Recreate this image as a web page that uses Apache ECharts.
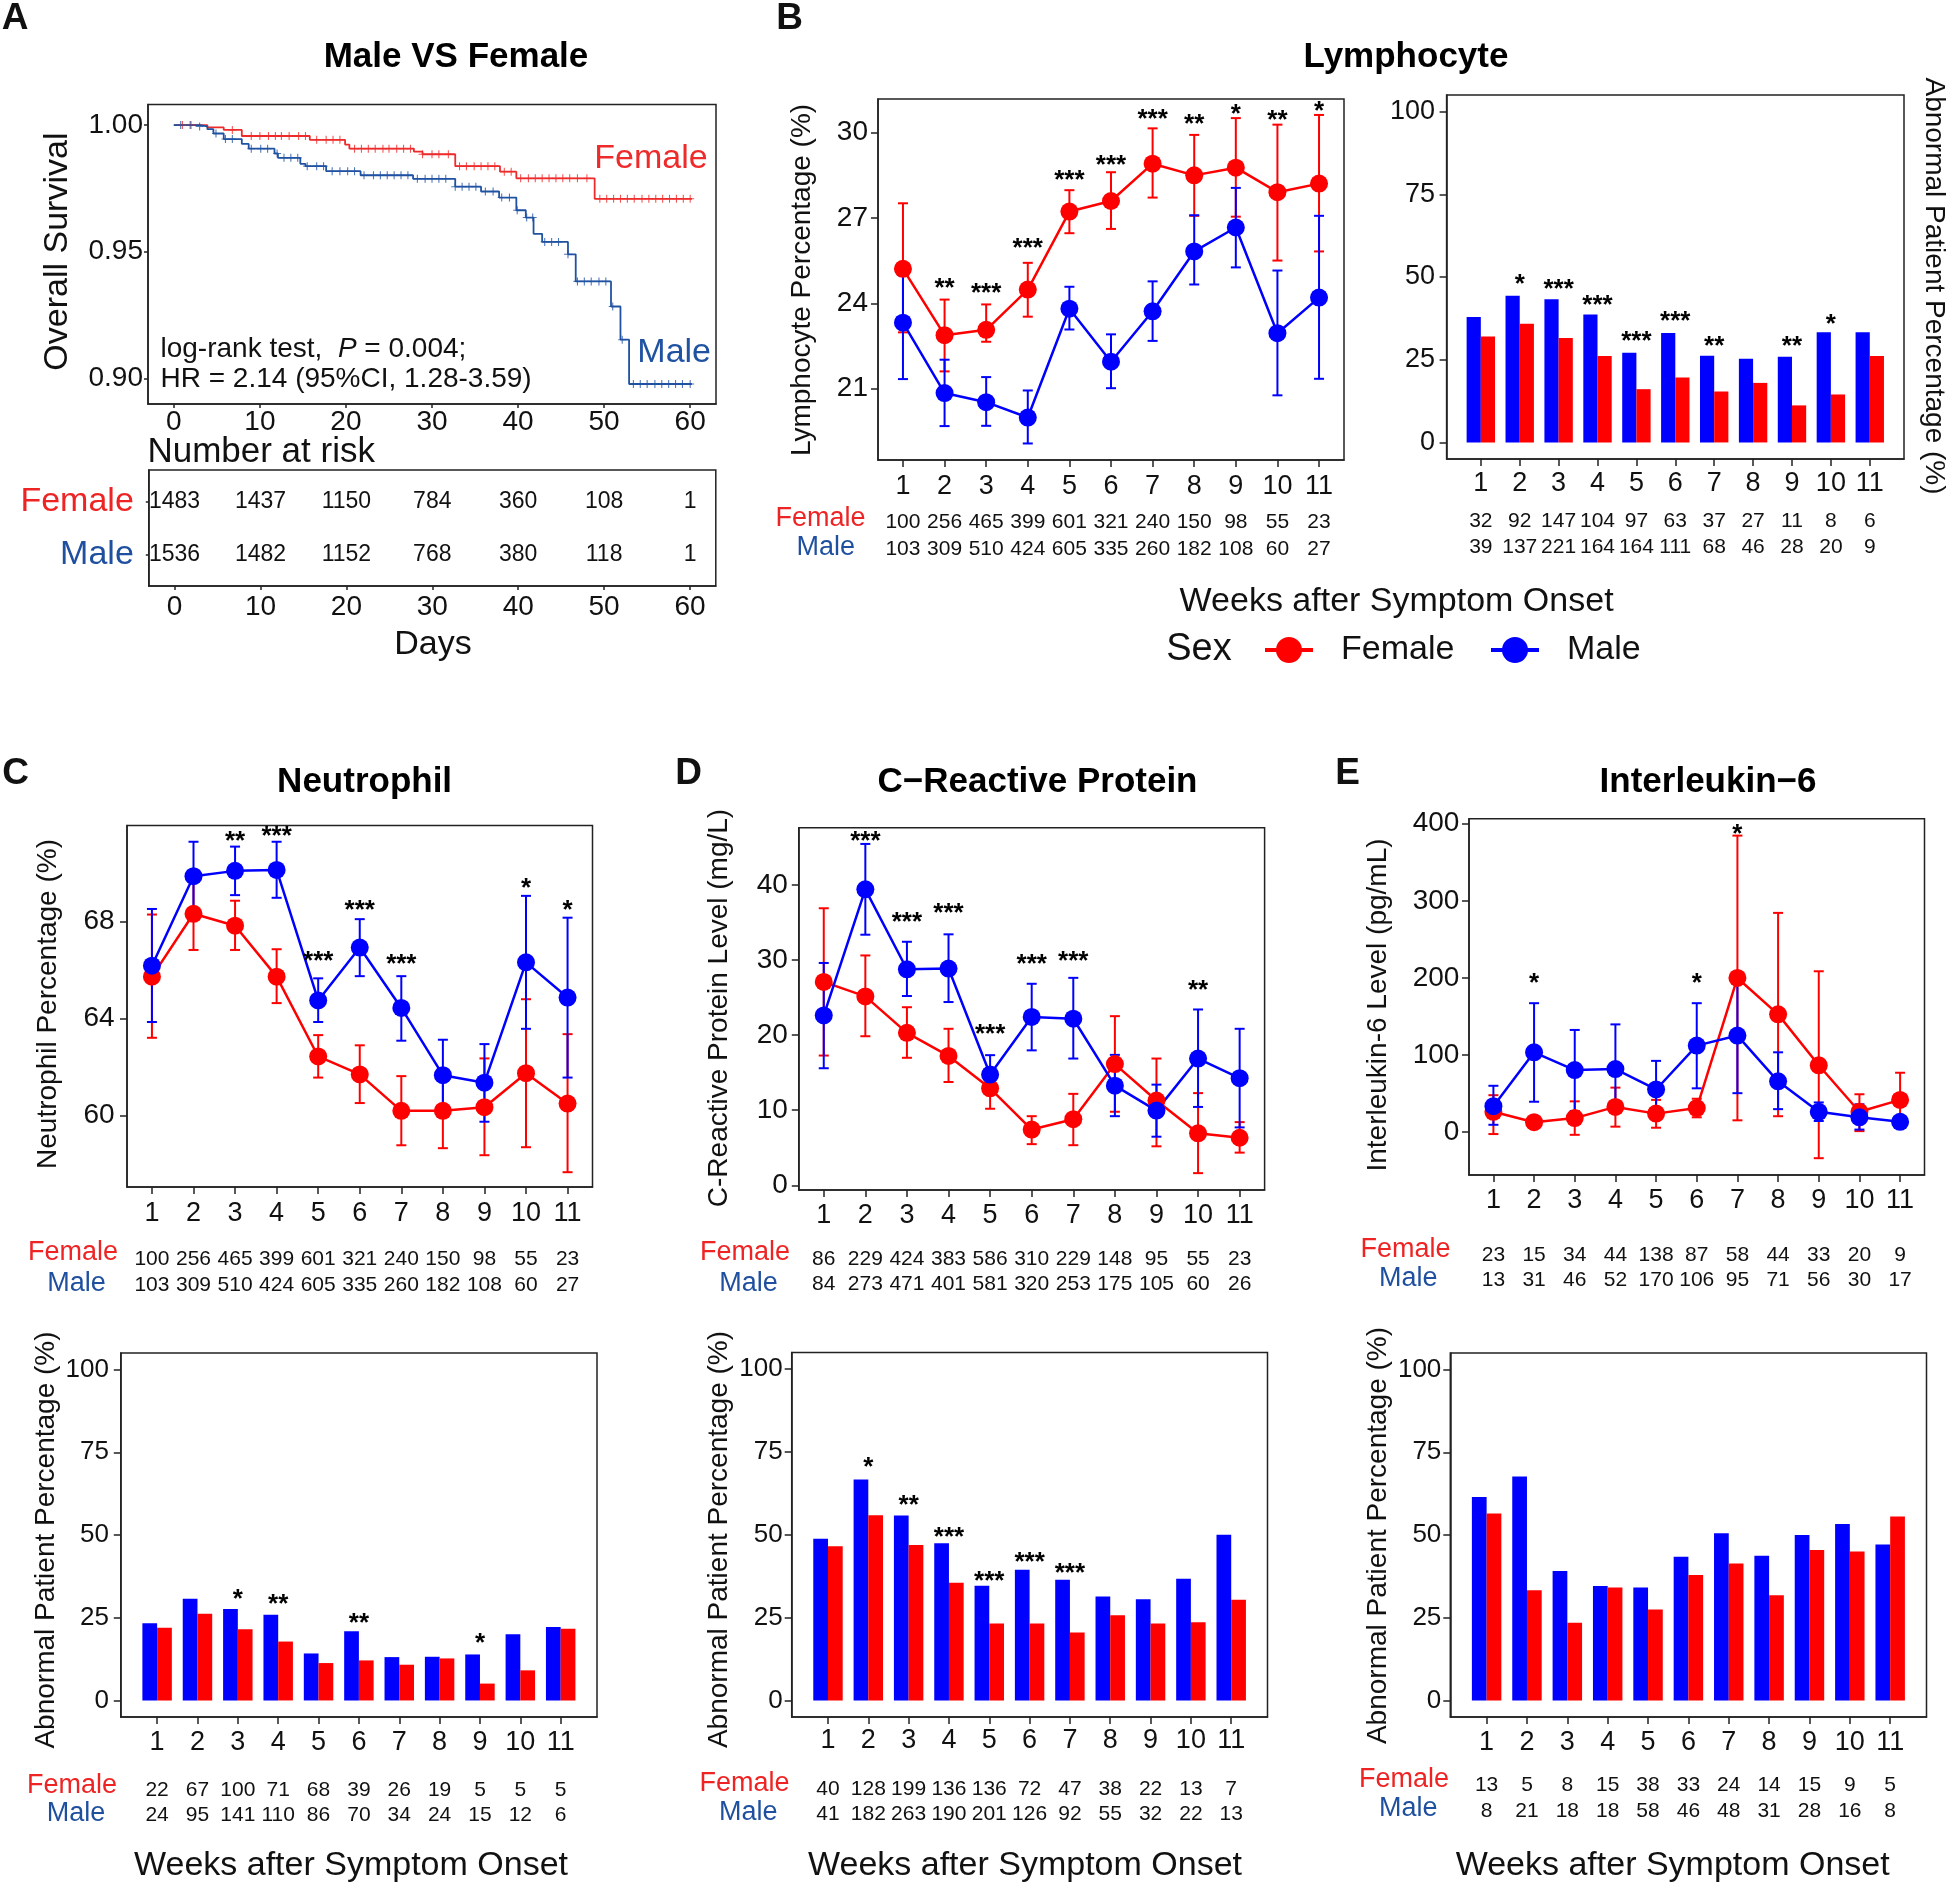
<!DOCTYPE html>
<html><head><meta charset="utf-8">
<script src="https://cdn.jsdelivr.net/npm/echarts@6/dist/echarts.min.js"></script>
<style>html,body{margin:0;padding:0;background:#fff}#c{width:1946px;height:1883px}</style>
</head><body><div id="c"></div><script>
// ---------------- DATA ----------------
const weeks = [1,2,3,4,5,6,7,8,9,10,11];

// Panel A: Kaplan-Meier
const kmFemaleDays = [0, 3.9, 5.8, 7.9, 15.8, 19.9, 20.4, 27.9, 28.9, 32.7, 37.9, 39.8, 48.9, 60.2];
const kmFemaleSurv = [1.000, 0.9991, 0.9981, 0.9957, 0.9942, 0.9923, 0.9907, 0.9895, 0.9885, 0.9838, 0.9816, 0.9790, 0.9709, 0.9709];
const kmMaleDays = [0, 3.0, 3.9, 4.6, 5.8, 7.9, 8.7, 11.7, 12.1, 14.7, 15.3, 17.7, 21.7, 27.8, 32.7, 35.7, 37.8, 39.8, 40.9, 41.8, 42.8, 45.8, 46.7, 50.8, 51.9, 52.9, 60.2];
const kmMaleSurv = [1.000, 0.9995, 0.9984, 0.9967, 0.9945, 0.9926, 0.9907, 0.9888, 0.9871, 0.9847, 0.9838, 0.9818, 0.9802, 0.9788, 0.9757, 0.9738, 0.9714, 0.9664, 0.9635, 0.9571, 0.9539, 0.9490, 0.9383, 0.9284, 0.9153, 0.8978, 0.8978];
const kmFemaleCensor = [1, 2, 6.8, 9, 10, 11, 11.8, 12.5, 13.4, 14.5, 15.3, 16.6, 17.7, 18.5, 19.3, 21, 21.8, 22.6, 23.4, 24.3, 25, 25.9, 26.7, 27.5, 28.9, 30, 30.8, 31.9, 33.2, 34, 34.9, 35.7, 36.5, 37.3, 38.4, 39.2, 40.3, 41.2, 42, 42.8, 43.6, 44.4, 45.2, 46, 46.9, 48, 49.5, 50.3, 51.1, 51.9, 52.7, 53.5, 54.4, 55.2, 56, 56.8, 57.6, 58.4, 59.2, 60];
const kmMaleCensor = [0.8, 1.9, 3, 4.9, 6, 6.8, 9, 10.1, 10.9, 12, 12.8, 13.6, 14.4, 15.5, 16.6, 17.4, 18.4, 19.3, 20.2, 21, 22.1, 23.2, 24, 24.8, 25.6, 26.4, 27.2, 28.3, 29.2, 30, 30.8, 31.6, 32.7, 33.5, 34.3, 35.1, 36.2, 37.1, 38.1, 39, 39.9, 41, 41.7, 43.1, 43.9, 44.7, 45.8, 46.9, 47.7, 48.5, 49.4, 50.2, 51, 52.1, 53.4, 54.2, 55, 55.9, 56.7, 57.5, 58.3, 59.1, 60];
const riskDays = [0, 10, 20, 30, 40, 50, 60];
const riskFemale = [1483, 1437, 1150, 784, 360, 108, 1];
const riskMale = [1536, 1482, 1152, 768, 380, 118, 1];

// Panel B: Lymphocyte
const lymFemale   = [25.21, 22.88, 23.07, 24.48, 27.22, 27.59, 28.90, 28.49, 28.76, 27.90, 28.20];
const lymFemaleLo = [22.98, 21.61, 22.65, 23.53, 26.46, 26.61, 27.71, 27.07, 27.04, 25.50, 25.82];
const lymFemaleHi = [27.51, 24.13, 23.96, 25.42, 27.97, 28.60, 30.14, 29.91, 30.50, 30.27, 30.61];
const lymMale     = [23.32, 20.85, 20.53, 19.99, 23.81, 21.95, 23.72, 25.82, 26.66, 22.95, 24.20];
const lymMaleLo   = [21.34, 19.69, 19.70, 19.08, 23.08, 21.02, 22.68, 24.66, 25.26, 20.77, 21.35];
const lymMaleHi   = [24.98, 22.02, 21.41, 20.94, 24.58, 22.91, 24.77, 27.09, 28.05, 25.15, 27.07];
const lymStars = ['', '**', '***', '***', '***', '***', '***', '**', '*', '**', '*'];
const lymStarY = [null, 24.71, 24.55, 26.11, 28.52, 29.04, 30.66, 30.47, 30.81, 30.63, 30.92];
const lymFemaleN = [100, 256, 465, 399, 601, 321, 240, 150, 98, 55, 23];
const lymMaleN   = [103, 309, 510, 424, 605, 335, 260, 182, 108, 60, 27];
const lymAbnFemale = [32.0, 35.9, 31.6, 26.1, 16.1, 19.6, 15.4, 18.0, 11.2, 14.5, 26.1];
const lymAbnMale   = [37.9, 44.3, 43.3, 38.7, 27.1, 33.1, 26.2, 25.3, 25.9, 33.3, 33.3];
const lymAbnStars = ['', '*', '***', '***', '***', '***', '**', '', '**', '*', ''];
const lymAbnStarY = [null, 49.3, 48.0, 43.0, 32.2, 38.4, 30.7, null, 30.7, 37.5, null];
const lymAbnFemaleN = [32, 92, 147, 104, 97, 63, 37, 27, 11, 8, 6];
const lymAbnMaleN   = [39, 137, 221, 164, 164, 111, 68, 46, 28, 20, 9];

// Panel C: Neutrophil
const neuFemale   = [65.72, 68.31, 67.82, 65.72, 62.43, 61.69, 60.19, 60.19, 60.34, 61.74, 60.49];
const neuFemaleLo = [63.20, 66.82, 66.82, 64.63, 61.56, 60.51, 58.77, 58.65, 58.36, 58.69, 57.66];
const neuFemaleHi = [68.28, 69.80, 68.85, 66.85, 63.31, 62.89, 61.62, 61.60, 62.35, 64.79, 63.35];
const neuMale     = [66.17, 69.86, 70.08, 70.12, 64.74, 66.92, 64.43, 61.66, 61.35, 66.31, 64.86];
const neuMaleLo   = [63.85, 68.43, 69.08, 68.97, 63.85, 65.74, 63.08, 60.20, 59.74, 63.57, 61.56];
const neuMaleHi   = [68.51, 71.28, 71.08, 71.28, 65.65, 68.09, 65.74, 63.12, 62.94, 69.05, 68.15];
const neuStars = ['', '', '**', '***', '***', '***', '***', '', '', '*', '*'];
const neuStarY = [null, null, 71.54, 71.74, 66.58, 68.66, 66.46, null, null, 69.58, 68.66];
const neuFemaleN = [100, 256, 465, 399, 601, 321, 240, 150, 98, 55, 23];
const neuMaleN   = [103, 309, 510, 424, 605, 335, 260, 182, 108, 60, 27];
const neuAbnFemale = [22.0, 26.2, 21.5, 17.8, 11.3, 12.1, 10.8, 12.7, 5.1, 9.1, 21.7];
const neuAbnMale   = [23.3, 30.7, 27.6, 25.9, 14.2, 20.9, 13.1, 13.2, 13.9, 20.0, 22.2];
const neuAbnStars = ['', '', '*', '**', '', '**', '', '', '*', '', ''];
const neuAbnStarY = [null, null, 32.1, 30.8, null, 24.9, null, null, 18.8, null, null];
const neuAbnFemaleN = [22, 67, 100, 71, 68, 39, 26, 19, 5, 5, 5];
const neuAbnMaleN   = [24, 95, 141, 110, 86, 70, 34, 24, 15, 12, 6];

// Panel D: C-Reactive Protein
const crpFemale   = [27.08, 25.15, 20.30, 17.23, 12.92, 7.43, 8.81, 16.14, 11.29, 6.93, 6.34];
const crpFemaleLo = [17.28, 19.85, 16.98, 13.76, 10.20, 5.49, 5.35, 9.80, 5.20, 1.63, 4.36];
const crpFemaleHi = [36.88, 30.60, 23.71, 20.84, 15.60, 9.21, 12.18, 22.52, 16.88, 12.28, 8.42];
const crpMale     = [22.62, 39.40, 28.76, 28.86, 14.75, 22.42, 22.18, 13.27, 9.95, 16.88, 14.26];
const crpMaleLo   = [15.59, 33.36, 25.20, 24.40, 12.30, 17.97, 16.88, 9.21, 6.48, 10.44, 7.72];
const crpMaleHi   = [29.60, 45.44, 32.42, 33.41, 17.33, 26.83, 27.62, 17.37, 13.41, 23.41, 20.84];
const crpStars = ['', '***', '***', '***', '***', '***', '***', '', '', '**', ''];
const crpStarY = [null, 46.53, 35.69, 36.93, 20.84, 30.20, 30.59, null, null, 26.63, null];
const crpFemaleN = [86, 229, 424, 383, 586, 310, 229, 148, 95, 55, 23];
const crpMaleN   = [84, 273, 471, 401, 581, 320, 253, 175, 105, 60, 26];
const crpAbnFemale = [46.5, 55.9, 46.9, 35.5, 23.2, 23.2, 20.5, 25.7, 23.2, 23.6, 30.4];
const crpAbnMale   = [48.8, 66.7, 55.8, 47.4, 34.6, 39.4, 36.4, 31.4, 30.5, 36.7, 50.0];
const crpAbnStars = ['', '*', '**', '***', '***', '***', '***', '', '', '', ''];
const crpAbnStarY = [null, 71.9, 60.5, 50.9, 37.6, 43.3, 40.0, null, null, null, null];
const crpAbnFemaleN = [40, 128, 199, 136, 136, 72, 47, 38, 22, 13, 7];
const crpAbnMaleN   = [41, 182, 263, 190, 201, 126, 92, 55, 32, 22, 13];

// Panel E: Interleukin-6
const il6Female   = [26.5, 13.0, 18.3, 32.8, 24.1, 31.3, 200.0, 152.8, 86.8, 26.5, 41.9];
const il6FemaleLo = [-2.4, 5.8, -3.4, 7.2, 5.8, 19.3, 15.4, 20.7, -33.7, 1.4, 7.2];
const il6FemaleHi = [48.0, 21.0, 40.0, 57.8, 41.9, 43.4, 384.6, 284.4, 208.7, 49.2, 77.1];
const il6Male     = [33.7, 103.6, 80.5, 81.9, 55.4, 112.3, 125.3, 66.0, 26.5, 19.3, 13.5];
const il6MaleLo   = [9.6, 39.5, 27.5, 26.5, 21.7, 56.9, 50.6, 29.9, 14.5, 3.4, 7.2];
const il6MaleHi   = [60.2, 167.3, 132.6, 139.8, 92.5, 167.3, 200.0, 103.6, 38.6, 36.2, 19.3];
const il6Stars = ['', '*', '', '', '', '*', '*', '', '', '', ''];
const il6StarY = [null, 200, null, null, null, 200, 392.8, null, null, null, null];
const il6FemaleN = [23, 15, 34, 44, 138, 87, 58, 44, 33, 20, 9];
const il6MaleN   = [13, 31, 46, 52, 170, 106, 95, 71, 56, 30, 17];
const il6AbnFemale = [56.5, 33.3, 23.5, 34.1, 27.5, 37.9, 41.4, 31.8, 45.5, 45.0, 55.6];
const il6AbnMale   = [61.5, 67.7, 39.1, 34.6, 34.1, 43.4, 50.5, 43.7, 50.0, 53.3, 47.1];
const il6AbnStars = ['', '', '', '', '', '', '', '', '', '', ''];
const il6AbnStarY = [null, null, null, null, null, null, null, null, null, null, null];
const il6AbnFemaleN = [13, 5, 8, 15, 38, 33, 24, 14, 15, 9, 5];
const il6AbnMaleN   = [8, 21, 18, 18, 58, 46, 48, 31, 28, 16, 8];

// Tick labels
const kmXTicks = [0, 10, 20, 30, 40, 50, 60];
const kmYTicks = [0.90, 0.95, 1.00];
const lymYTicks = [21, 24, 27, 30];
const neuYTicks = [60, 64, 68];
const crpYTicks = [0, 10, 20, 30, 40];
const il6YTicks = [0, 100, 200, 300, 400];
const pctTicks = [0, 25, 50, 75, 100];

// ---------------- STYLE ----------------
const FF = '"Liberation Sans", Arial, Helvetica, sans-serif';
const RED = '#ff0000', BLUE = '#0000ff';
const KM_RED = '#ee2b2b', KM_BLUE = '#2052a2';
const LBL_RED = '#ee2424', LBL_BLUE = '#1f4f9f';
const AX = '#222';

const gridDefs = [
  {left:148, top:104.6, width:568, height:299.4},
  {left:148.8, top:470, width:567, height:116},
  {left:878, top:99, width:466, height:361},
  {left:1446.6, top:95, width:457.4, height:364},
  {left:127, top:825.5, width:465.5, height:361.5},
  {left:798.8, top:827.7, width:465.8, height:362.2},
  {left:1469, top:818.8, width:455.5, height:356.2},
  {left:120.8, top:1353, width:476.2, height:364},
  {left:791.7, top:1352.5, width:475.8, height:364.5},
  {left:1450.3, top:1353, width:476.2, height:364}
];
const grids = gridDefs.map(g => Object.assign({show:true, borderColor:AX, borderWidth:1.5}, g));

function axis(kind, gi, min, max, ticks, o) {
  o = o || {};
  return {
    type:'value', gridIndex:gi, min:min, max:max,
    position: kind === 'x' ? 'bottom' : 'left',
    axisLine:{show:true, onZero:false, lineStyle:{color:AX, width:1.5}},
    splitLine:{show:false},
    axisTick:{show:true, customValues:ticks, length:(o.tick != null ? o.tick : 7), lineStyle:{color:AX, width:1.5}},
    axisLabel:{show:true, customValues:ticks, margin:(o.margin != null ? o.margin : 10),
      fontSize:(o.fs || 27), fontFamily:FF, color:'#111',
      formatter: o.fmt || (v => String(v)), rich:o.rich}
  };
}

const xAxes = [
  axis('x',0,-3,63,kmXTicks,{tick:4, margin:4, fs:28}),
  axis('x',1,-3,63,kmXTicks,{tick:4, margin:7, fs:28}),
  axis('x',2,0.4,11.6,weeks,{margin:13}),
  axis('x',3,0.12,11.88,weeks,{margin:11.5}),
  axis('x',4,0.4,11.6,weeks,{margin:13.5}),
  axis('x',5,0.4,11.6,weeks,{margin:12.5}),
  axis('x',6,0.4,11.6,weeks,{margin:12.5}),
  axis('x',7,0.1,11.9,weeks,{margin:12.5}),
  axis('x',8,0.1,11.9,weeks,{margin:10.5}),
  axis('x',9,0.1,11.9,weeks,{margin:12.5})
];
const yAxes = [
  axis('y',0,0.8899,1.0081,kmYTicks,{tick:4, margin:5, fs:28, fmt:v => v.toFixed(2)}),
  axis('y',1,0.4,2.6,[1,2],{tick:3, margin:15, fs:34,
    fmt: v => (v === 2 ? '{f|Female}' : '{m|Male}'),
    rich:{f:{color:LBL_RED, fontSize:34, fontFamily:FF}, m:{color:LBL_BLUE, fontSize:34, fontFamily:FF}}}),
  axis('y',2,18.5,31.17,lymYTicks,{margin:10, fs:28}),
  axis('y',3,-5,105,pctTicks,{margin:11.6, fs:27}),
  axis('y',4,57.05,71.95,neuYTicks,{margin:12.4, fs:28}),
  axis('y',5,-0.6,47.6,crpYTicks,{margin:11, fs:28}),
  axis('y',6,-55.5,406.4,il6YTicks,{margin:9.6, fs:28}),
  axis('y',7,-5,105,pctTicks,{margin:11.8, fs:26}),
  axis('y',8,-5,105,pctTicks,{margin:9, fs:26}),
  axis('y',9,-5,105,pctTicks,{margin:9, fs:26})
];

// ---------------- SERIES HELPERS ----------------
const series = [];
const PLUS = 'path://M3.9,0H5.1V3.9H9V5.1H5.1V9H3.9V5.1H0V3.9H3.9Z';

function survAt(days, surv, t) {
  let s = surv[0];
  for (let i = 0; i < days.length; i++) { if (days[i] <= t) s = surv[i]; }
  return s;
}

function labelSeries(ai, pts, texts, opt) {
  return {
    type:'custom', xAxisIndex:ai, yAxisIndex:ai, silent:true, clip:false, z:opt.z || 5,
    data:pts, encode:{x:0, y:1},
    renderItem:function(params, api) {
      const p = api.coord([api.value(0), api.value(1)]);
      return {type:'text', x:p[0] + (opt.dx || 0), y:p[1] + (opt.dy || 0),
        style:{text:String(texts[params.dataIndex]), fill:opt.color || '#111', font:opt.font,
          align:'center', verticalAlign:'middle'}};
    }
  };
}

function errSeries(ai, lo, hi, color) {
  return {
    type:'custom', xAxisIndex:ai, yAxisIndex:ai, silent:true, z:2,
    data:weeks.map((w,i) => [w, lo[i], hi[i]]), encode:{x:0, y:[1,2]},
    renderItem:function(params, api) {
      const x = api.value(0);
      const a = api.coord([x, api.value(1)]), b = api.coord([x, api.value(2)]);
      const st = {stroke:color, lineWidth:2};
      const hw = 5;
      return {type:'group', children:[
        {type:'line', shape:{x1:a[0], y1:a[1], x2:b[0], y2:b[1]}, style:st},
        {type:'line', shape:{x1:a[0]-hw, y1:a[1], x2:a[0]+hw, y2:a[1]}, style:st},
        {type:'line', shape:{x1:b[0]-hw, y1:b[1], x2:b[0]+hw, y2:b[1]}, style:st}
      ]};
    }
  };
}

function lineSeries(ai, name, vals, color) {
  return {type:'line', name:name, xAxisIndex:ai, yAxisIndex:ai, z:3,
    data:weeks.map((w,i) => [w, vals[i]]), symbol:'circle', symbolSize:18, showSymbol:true,
    lineStyle:{color:color, width:2.5}, itemStyle:{color:color}, silent:true};
}

function starSeries(ai, stars, ys) {
  const idx = stars.map((s,i) => i).filter(i => stars[i]);
  return labelSeries(ai, idx.map(i => [weeks[i], ys[i]]), idx.map(i => stars[i]),
    {font:'bold 26px ' + FF, color:'#000', dy:6});
}

function countSeries(ai, counts, yMin, dy) {
  return labelSeries(ai, weeks.map(w => [w, yMin]), counts, {font:'21px ' + FF, color:'#111', dy:dy});
}

function linePanel(ai, F, FLo, FHi, M, MLo, MHi, stars, starY, fN, mN, yMin, dyF, dyM) {
  series.push(errSeries(ai, FLo, FHi, RED));
  series.push(errSeries(ai, MLo, MHi, BLUE));
  series.push(lineSeries(ai, 'Female', F, RED));
  series.push(lineSeries(ai, 'Male', M, BLUE));
  series.push(starSeries(ai, stars, starY));
  series.push(countSeries(ai, fN, yMin, dyF));
  series.push(countSeries(ai, mN, yMin, dyM));
}

function barPanel(ai, M, F, stars, starY, fN, mN, dyF, dyM) {
  series.push({
    type:'custom', xAxisIndex:ai, yAxisIndex:ai, silent:true, z:2,
    data:weeks.map((w,i) => [w, M[i], F[i]]), encode:{x:0, y:[1,2]},
    renderItem:function(params, api) {
      const x = api.value(0), w = 0.365;
      const b0 = api.coord([x - w, 0]), mid = api.coord([x, api.value(1)]);
      const fTop = api.coord([x + w, api.value(2)]);
      const base = b0[1];
      return {type:'group', children:[
        {type:'rect', shape:{x:b0[0], y:mid[1], width:mid[0]-b0[0], height:base-mid[1]}, style:{fill:BLUE}},
        {type:'rect', shape:{x:mid[0], y:fTop[1], width:fTop[0]-mid[0], height:base-fTop[1]}, style:{fill:RED}}
      ]};
    }
  });
  series.push(starSeries(ai, stars, starY));
  series.push(countSeries(ai, fN, -5, dyF));
  series.push(countSeries(ai, mN, -5, dyM));
}

// ---------------- BUILD SERIES ----------------
// Panel A
series.push({type:'line', xAxisIndex:0, yAxisIndex:0, step:'end', showSymbol:false, silent:true, z:3,
  data:kmFemaleDays.map((d,i) => [d, kmFemaleSurv[i]]), lineStyle:{color:KM_RED, width:1.8}, itemStyle:{color:KM_RED}});
series.push({type:'line', xAxisIndex:0, yAxisIndex:0, step:'end', showSymbol:false, silent:true, z:3,
  data:kmMaleDays.map((d,i) => [d, kmMaleSurv[i]]), lineStyle:{color:KM_BLUE, width:1.8}, itemStyle:{color:KM_BLUE}});
series.push({type:'scatter', xAxisIndex:0, yAxisIndex:0, symbol:PLUS, symbolSize:8, silent:true, z:4,
  itemStyle:{color:KM_RED}, data:kmFemaleCensor.map(t => [t, survAt(kmFemaleDays, kmFemaleSurv, t)])});
series.push({type:'scatter', xAxisIndex:0, yAxisIndex:0, symbol:PLUS, symbolSize:8, silent:true, z:4,
  itemStyle:{color:KM_BLUE}, data:kmMaleCensor.map(t => [t, survAt(kmMaleDays, kmMaleSurv, t)])});
series.push(labelSeries(1, riskDays.map(d => [d, 2]), riskFemale, {font:'23px ' + FF, color:'#111'}));
series.push(labelSeries(1, riskDays.map(d => [d, 1]), riskMale, {font:'23px ' + FF, color:'#111'}));

// Line panels
linePanel(2, lymFemale, lymFemaleLo, lymFemaleHi, lymMale, lymMaleLo, lymMaleHi, lymStars, lymStarY, lymFemaleN, lymMaleN, 18.5, 62, 89);
linePanel(4, neuFemale, neuFemaleLo, neuFemaleHi, neuMale, neuMaleLo, neuMaleHi, neuStars, neuStarY, neuFemaleN, neuMaleN, 57.05, 72, 98);
linePanel(5, crpFemale, crpFemaleLo, crpFemaleHi, crpMale, crpMaleLo, crpMaleHi, crpStars, crpStarY, crpFemaleN, crpMaleN, -0.6, 69, 94);
linePanel(6, il6Female, il6FemaleLo, il6FemaleHi, il6Male, il6MaleLo, il6MaleHi, il6Stars, il6StarY, il6FemaleN, il6MaleN, -55.5, 80, 105);

// Bar panels
barPanel(3, lymAbnMale, lymAbnFemale, lymAbnStars, lymAbnStarY, lymAbnFemaleN, lymAbnMaleN, 62, 88);
barPanel(7, neuAbnMale, neuAbnFemale, neuAbnStars, neuAbnStarY, neuAbnFemaleN, neuAbnMaleN, 73, 98);
barPanel(8, crpAbnMale, crpAbnFemale, crpAbnStars, crpAbnStarY, crpAbnFemaleN, crpAbnMaleN, 72, 97);
barPanel(9, il6AbnMale, il6AbnFemale, il6AbnStars, il6AbnStarY, il6AbnFemaleN, il6AbnMaleN, 68.6, 94);

// ---------------- TEXT / DECORATION ----------------
function T(text, x, y, size, o) {
  o = o || {};
  return {type:'text', x:x, y:y, rotation:o.rot || 0, silent:true, z:10,
    style:{text:text, font:(o.bold ? 'bold ' : '') + size + 'px ' + FF, fill:o.color || '#111',
      align:o.align || 'center', verticalAlign:'middle', rich:o.rich}};
}
const R90 = Math.PI / 2;
const graphics = [
  T('A', 15, 19, 37, {bold:true, color:'#111'}),
  T('B', 789.5, 19, 37, {bold:true}),
  T('C', 15.5, 774, 37, {bold:true}),
  T('D', 688.5, 774, 37, {bold:true}),
  T('E', 1347.5, 774, 37, {bold:true}),
  T('Male VS Female', 456, 57, 35, {bold:true, color:'#000'}),
  T('Lymphocyte', 1406, 57, 35, {bold:true, color:'#000'}),
  T('Neutrophil', 364.6, 782, 35, {bold:true, color:'#000'}),
  T('C\u2212Reactive Protein', 1037.5, 782, 35, {bold:true, color:'#000'}),
  T('Interleukin\u22126', 1708, 782, 35, {bold:true, color:'#000'}),
  // axis titles
  T('Overall Survival', 58, 251.6, 34, {rot:R90}),
  T('Lymphocyte Percentage (%)', 802, 280, 28, {rot:R90}),
  T('Abnormal Patient Percentage (%)', 1934, 286, 28, {rot:-R90}),
  T('Neutrophil Percentage (%)', 48, 1004, 28, {rot:R90}),
  T('C-Reactive Protein Level (mg/L)', 719, 1008, 28, {rot:R90}),
  T('Interleukin-6 Level (pg/mL)', 1378.7, 1005, 28, {rot:R90}),
  T('Abnormal Patient Percentage (%)', 46.7, 1540, 28, {rot:R90}),
  T('Abnormal Patient Percentage (%)', 718.8, 1539.5, 28, {rot:R90}),
  T('Abnormal Patient Percentage (%)', 1378.7, 1535.5, 28, {rot:R90}),
  // count row labels
  T('Female', 820.5, 519, 27, {color:LBL_RED}), T('Male', 825.7, 548, 27, {color:LBL_BLUE}),
  T('Female', 73, 1253, 27, {color:LBL_RED}), T('Male', 76.5, 1283.6, 27, {color:LBL_BLUE}),
  T('Female', 745, 1253, 27, {color:LBL_RED}), T('Male', 748.5, 1283.6, 27, {color:LBL_BLUE}),
  T('Female', 1405.6, 1249.4, 27, {color:LBL_RED}), T('Male', 1408.3, 1279, 27, {color:LBL_BLUE}),
  T('Female', 72, 1785.6, 27, {color:LBL_RED}), T('Male', 76, 1813.7, 27, {color:LBL_BLUE}),
  T('Female', 744.6, 1783.8, 27, {color:LBL_RED}), T('Male', 748.3, 1812.6, 27, {color:LBL_BLUE}),
  T('Female', 1404, 1780, 27, {color:LBL_RED}), T('Male', 1408.3, 1809, 27, {color:LBL_BLUE}),
  // x titles
  T('Weeks after Symptom Onset', 1396.6, 602, 34),
  T('Weeks after Symptom Onset', 351, 1866, 34),
  T('Weeks after Symptom Onset', 1025, 1866, 34),
  T('Weeks after Symptom Onset', 1672.7, 1866, 34),
  // panel A annotations
  T('Female', 707.6, 159, 34, {align:'right', color:KM_RED}),
  T('Male', 711, 353, 34, {align:'right', color:KM_BLUE}),
  T('log-rank test,  {i|P} = 0.004;', 160.5, 348.8, 28, {align:'left',
    rich:{i:{fontStyle:'italic', fontSize:28, fontFamily:FF, fill:'#111'}}}),
  T('HR = 2.14 (95%CI, 1.28-3.59)', 160.5, 379.3, 28, {align:'left'}),
  T('Number at risk', 147.4, 452, 35, {align:'left'}),
  T('Days', 433, 644.5, 34),
  // legend
  T('Sex', 1199, 650, 38),
  {type:'line', silent:true, shape:{x1:1265, y1:650, x2:1313, y2:650}, style:{stroke:RED, lineWidth:4}},
  {type:'circle', silent:true, shape:{cx:1289, cy:650, r:13}, style:{fill:RED}},
  T('Female', 1341, 650, 34, {align:'left'}),
  {type:'line', silent:true, shape:{x1:1491, y1:650, x2:1539, y2:650}, style:{stroke:BLUE, lineWidth:4}},
  {type:'circle', silent:true, shape:{cx:1515, cy:650, r:13}, style:{fill:BLUE}},
  T('Male', 1567, 650, 34, {align:'left'})
];

const chart = echarts.init(document.getElementById('c'), null, {renderer:'canvas', width:1946, height:1883});
chart.setOption({
  animation:false,
  backgroundColor:'#fff',
  textStyle:{fontFamily:FF},
  grid:grids,
  xAxis:xAxes,
  yAxis:yAxes,
  series:series,
  graphic:{elements:graphics}
});
</script></body></html>
